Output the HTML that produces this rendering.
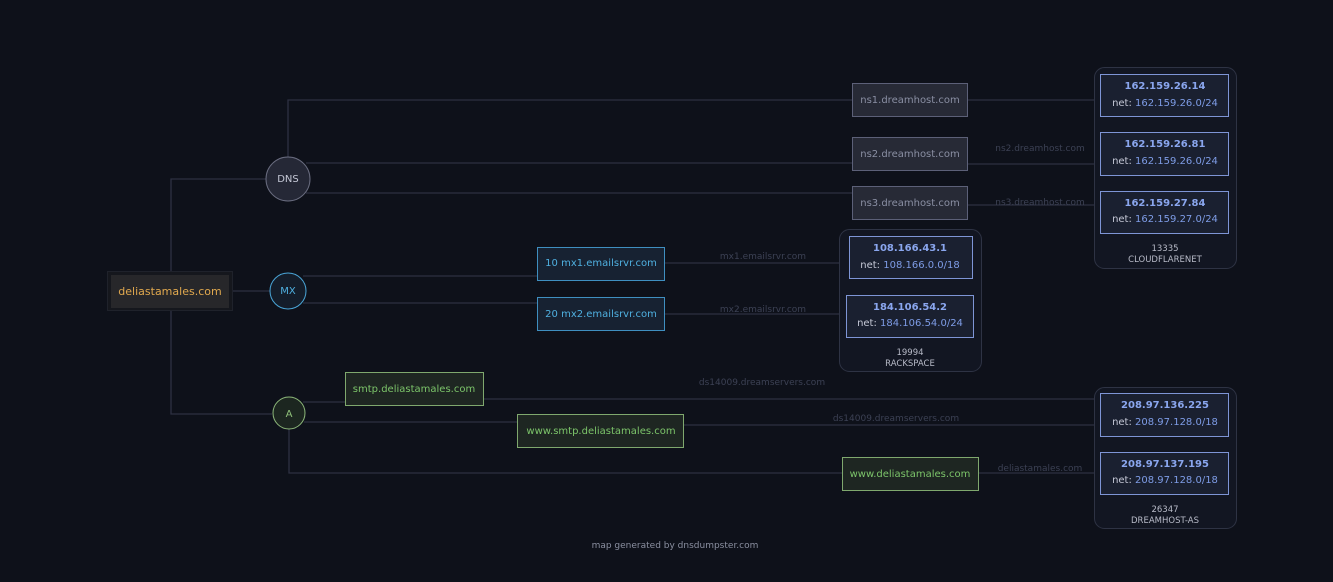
<!DOCTYPE html>
<html><head><meta charset="utf-8"><style>
html,body{margin:0;padding:0;background:#0e111a;}
svg{display:block;font-family:"DejaVu Sans","Liberation Sans",sans-serif;}
</style></head><body>
<svg width="1333" height="582" viewBox="0 0 1333 582" xmlns="http://www.w3.org/2000/svg">
<rect width="1333" height="582" fill="#0e111a"/>
<g stroke="#2d3142" stroke-width="1.3" fill="none">
<!-- root -->
<polyline points="266,179 171,179 171,271"/>
<polyline points="171,311 171,414 272,414"/>
<line x1="233" y1="291" x2="270" y2="291"/>
<!-- DNS -->
<polyline points="288,157 288,100 852,100"/>
<line x1="306" y1="163" x2="852" y2="163"/>
<line x1="306" y1="193" x2="852" y2="193"/>
<line x1="968" y1="100" x2="1100" y2="100"/>
<line x1="968" y1="164" x2="1100" y2="164"/>
<line x1="968" y1="205" x2="1100" y2="205"/>
<!-- MX -->
<line x1="303" y1="276" x2="537" y2="276"/>
<line x1="303" y1="303" x2="537" y2="303"/>
<line x1="665" y1="263" x2="849" y2="263"/>
<line x1="665" y1="314" x2="846" y2="314"/>
<!-- A -->
<line x1="303" y1="402" x2="345" y2="402"/>
<line x1="484" y1="399" x2="1100" y2="399"/>
<line x1="304" y1="422" x2="517" y2="422"/>
<line x1="684" y1="425" x2="1100" y2="425"/>
<polyline points="289,429 289,473 842,473"/>
<line x1="979" y1="473" x2="1100" y2="473"/>
</g>
<!-- edge labels -->
<g fill="#3c4154" font-size="9" text-anchor="middle">
<text x="1040" y="151">ns2.dreamhost.com</text>
<text x="1040" y="205">ns3.dreamhost.com</text>
<text x="763" y="259">mx1.emailsrvr.com</text>
<text x="763" y="312">mx2.emailsrvr.com</text>
<text x="762" y="385">ds14009.dreamservers.com</text>
<text x="896" y="421">ds14009.dreamservers.com</text>
<text x="1040" y="471">deliastamales.com</text>
</g>
<!-- root node -->
<rect x="107.5" y="271.5" width="125" height="39" fill="#15171d" stroke="#1f222b"/>
<rect x="111" y="275" width="118" height="33" fill="#27272a"/>
<text x="170" y="295" fill="#e0a84e" font-size="11" text-anchor="middle">deliastamales.com</text>
<!-- circles -->
<circle cx="288" cy="179" r="22" fill="#252836" stroke="#6a6d80"/>
<text x="288" y="182" fill="#c5c8d6" font-size="10" text-anchor="middle">DNS</text>
<circle cx="288" cy="291" r="18" fill="#141d2a" stroke="#4aa6d8"/>
<text x="288" y="294" fill="#4fb0e0" font-size="10" text-anchor="middle">MX</text>
<circle cx="289" cy="413" r="16" fill="#1c2620" stroke="#8db87a"/>
<text x="289" y="417" fill="#8fc07a" font-size="10" text-anchor="middle">A</text>
<!-- ns boxes -->
<g fill="#272a36" stroke="#5c6078">
<rect x="852.5" y="83.5" width="115" height="33"/>
<rect x="852.5" y="137.5" width="115" height="33"/>
<rect x="852.5" y="186.5" width="115" height="33"/>
</g>
<g fill="#8a8fa3" font-size="10" text-anchor="middle">
<text x="910" y="103">ns1.dreamhost.com</text>
<text x="910" y="157">ns2.dreamhost.com</text>
<text x="910" y="206">ns3.dreamhost.com</text>
</g>
<!-- mx boxes -->
<g fill="#172232" stroke="#3f8fc0">
<rect x="537.5" y="247.5" width="127" height="33"/>
<rect x="537.5" y="297.5" width="127" height="33"/>
</g>
<g fill="#4fb0e0" font-size="10" text-anchor="middle">
<text x="601" y="266">10 mx1.emailsrvr.com</text>
<text x="601" y="317">20 mx2.emailsrvr.com</text>
</g>
<!-- A boxes -->
<g fill="#1e2622" stroke="#7fa86e">
<rect x="345.5" y="372.5" width="138" height="33"/>
<rect x="517.5" y="414.5" width="166" height="33"/>
<rect x="842.5" y="457.5" width="136" height="33"/>
</g>
<g fill="#7cc46a" font-size="10" text-anchor="middle">
<text x="414" y="392">smtp.deliastamales.com</text>
<text x="601" y="434">www.smtp.deliastamales.com</text>
<text x="910" y="477">www.deliastamales.com</text>
</g>
<!-- groups -->
<g fill="#121622" stroke="#2e3344">
<rect x="1094.5" y="67.5" width="142" height="201" rx="10"/>
<rect x="839.5" y="229.5" width="142" height="142" rx="10"/>
<rect x="1094.5" y="387.5" width="142" height="141" rx="10"/>
</g>
<g fill="#1a2030" stroke="#7e95d6">
<rect x="1100.5" y="74.5" width="128" height="42"/>
<rect x="1100.5" y="132.5" width="128" height="43"/>
<rect x="1100.5" y="191.5" width="128" height="42"/>
<rect x="849.5" y="236.5" width="123" height="42"/>
<rect x="846.5" y="295.5" width="127" height="42"/>
<rect x="1100.5" y="393.5" width="128" height="43"/>
<rect x="1100.5" y="452.5" width="128" height="42"/>
</g>
<g font-size="10" text-anchor="middle">
<g fill="#8aa6ee" font-weight="bold">
<text x="1165" y="89">162.159.26.14</text>
<text x="1165" y="147">162.159.26.81</text>
<text x="1165" y="206">162.159.27.84</text>
<text x="910" y="251">108.166.43.1</text>
<text x="910" y="310">184.106.54.2</text>
<text x="1165" y="408">208.97.136.225</text>
<text x="1165" y="467">208.97.137.195</text>
</g>
<g fill="#c5c8d6">
<text x="1165" y="106">net: <tspan fill="#7e9ce6">162.159.26.0/24</tspan></text>
<text x="1165" y="164">net: <tspan fill="#7e9ce6">162.159.26.0/24</tspan></text>
<text x="1165" y="222">net: <tspan fill="#7e9ce6">162.159.27.0/24</tspan></text>
<text x="910" y="268">net: <tspan fill="#7e9ce6">108.166.0.0/18</tspan></text>
<text x="910" y="326">net: <tspan fill="#7e9ce6">184.106.54.0/24</tspan></text>
<text x="1165" y="425">net: <tspan fill="#7e9ce6">208.97.128.0/18</tspan></text>
<text x="1165" y="483">net: <tspan fill="#7e9ce6">208.97.128.0/18</tspan></text>
</g>
<g fill="#b8bbc8" font-size="8.5">
<text x="1165" y="251">13335</text>
<text x="1165" y="262">CLOUDFLARENET</text>
<text x="910" y="355">19994</text>
<text x="910" y="366">RACKSPACE</text>
<text x="1165" y="512">26347</text>
<text x="1165" y="523">DREAMHOST-AS</text>
</g>
</g>
<text x="675" y="548" fill="#8a8fa0" font-size="9" text-anchor="middle">map generated by dnsdumpster.com</text>
</svg>
</body></html>
